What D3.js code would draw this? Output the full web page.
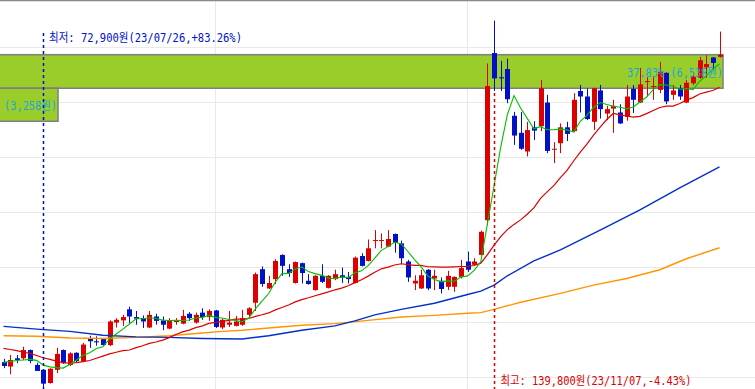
<!DOCTYPE html>
<html>
<head>
<meta charset="utf-8">
<script src="https://cdn.jsdelivr.net/npm/d3@7"></script>
<style>
html, body { margin: 0; padding: 0; background: #fff; overflow: hidden; }
.lbl { font-family: "DejaVu Sans Mono", "Noto Sans CJK KR", monospace; font-size: 12px; }
</style>
</head>
<body>
<div id="chart"></div>
<script>
// daily candles (won)
var opens = [77700,76900,78400,78400,79900,77200,76300,73900,76300,79900,77200,79400,77900,82000,81500,81900,80800,84900,85300,87300,
  85900,85700,84000,86000,85300,83800,85000,84700,86500,84900,86700,85900,87100,84000,84500,84300,84500,86300,88500,94600,
  91100,92800,97200,94600,92100,95700,92500,90800,93400,91200,92800,93500,93200,92100,97000,96100,99800,99800,98700,101000,
  99300,96000,92000,91100,94500,92900,92500,91400,91400,93200,96000,95400,97200,103500,133900,129500,131000,122500,119400,116000,
  120400,120600,124900,116400,117500,120400,119700,127000,126000,121400,127100,122900,123800,123100,122300,127400,124900,128700,127800,127200,
  130300,126300,127500,124900,128400,129400,131300,133100,133200];
var highs = [78300,79000,79000,80500,80000,77600,76300,76600,80300,80000,79500,79500,81200,82500,82400,82100,85300,85700,86300,87800,
  87000,86200,87000,86500,86000,85700,85700,87200,86800,86700,87500,87300,87200,85600,87000,86100,87200,87700,94000,95100,
  93400,96400,97300,95500,96000,95800,93700,93500,95500,93500,94500,94900,94100,96900,97500,100000,101700,101100,101700,101100,
  99800,96300,93500,94500,94600,94500,93100,94300,93300,96300,97800,96600,101600,132000,139800,132500,132900,123200,123200,121400,
  121500,129000,126300,117700,121100,121400,126600,128100,127500,127600,128100,124300,125400,124600,128100,128100,131200,129500,129500,132300,
  130400,128100,128100,129000,130300,133200,133500,133200,137800];
var lows = [76600,75500,77500,78100,77500,76100,72900,73800,75700,77400,77000,77700,77700,80300,80700,80700,80600,84000,84300,84800,
  84500,83900,83900,84500,83500,83700,84500,84600,85200,84700,85400,85200,83900,83700,84100,84200,84300,85700,87000,91400,
  91000,91900,93400,93200,92000,92000,91800,90700,92100,91100,92600,92100,92000,92000,95100,96000,98400,98400,98600,97600,
  95500,92300,90800,91000,90800,90800,90200,90800,90500,92900,94100,95200,97100,102600,127000,127000,124800,117200,116300,115100,
  118100,119700,115700,113900,115700,117900,119500,123100,121700,119900,122000,121700,119400,121000,121600,123000,124800,126000,125400,126600,
  124600,125400,125400,124800,128100,129200,129400,130800,133100];
var closes = [77000,78100,78100,79900,77900,76100,73800,76500,79200,77500,79300,77900,80900,81500,81300,80800,85100,85400,85900,86000,
  85600,85100,86300,85200,84500,85300,85200,86100,85700,86300,85900,87000,84100,85400,84900,85100,85700,87500,93700,91900,
  92100,96100,95200,93900,95900,93900,91900,93400,92300,93400,93700,93100,92800,96700,95200,98400,99900,99900,100100,99400,
  96600,93100,92500,93500,91100,93400,91000,93400,93200,94800,94500,96000,101400,127900,129300,129300,125500,118900,116500,119900,
  119800,127500,116100,116500,120400,119200,125400,126000,121900,127500,123700,123700,124300,121100,126000,125400,128200,128800,127900,130500,
  125100,127100,126000,128500,129600,132600,131900,132100,133600];

// moving averages
var ma5 = [77700,77800,78000,78100,78200,78020,77160,76840,76700,76620,77260,78080,78960,79420,80180,80480,81920,82820,83700,84640,
  85600,85600,85780,85640,85340,85280,85300,85260,85360,85720,85840,86200,85800,85740,85460,85300,85040,85720,87380,88780,
  90180,92260,93800,93840,94640,95000,94160,93800,93480,92980,92940,93180,93060,93940,94300,95240,96600,98020,98700,99540,
  99180,97820,96340,95020,93360,92720,92300,92480,92420,93160,93380,94380,95980,102920,109820,116780,122680,126180,123900,122020,
  120120,120520,119960,119960,120060,119940,119520,121500,122580,124000,124900,124560,124220,124060,123760,124100,125000,125900,127260,128160,
  128100,127880,127320,127440,127260,128760,129740,130960,131960];
var ma20 = [80200,80000,79800,79500,79300,78900,78500,78200,77900,77600,77500,77600,77800,78000,78400,78800,79200,79500,79800,79910,
  80340,80690,81100,81365,81695,82155,82725,83205,83530,83970,84300,84755,84915,85110,85290,85505,85535,85640,86030,86325,
  86650,87200,87645,88080,88650,89080,89415,89780,90110,90465,90855,91160,91595,92160,92675,93340,94050,94670,94990,95365,
  95590,95440,95305,95285,95045,95020,94975,94975,95020,95090,95130,95275,95705,97265,98970,100515,101795,102745,103565,104590,
  105750,107470,108650,109800,111265,112555,114275,115905,117340,118975,120435,121820,122965,122625,122460,122265,122400,122895,123465,123995,
  124260,124240,124735,125335,125795,126465,126790,127095,127685];
var ma60Idx = [0,5,10,15,20,25,30,36,40,45,50,53,56,60,65,70,72,74,76,80,84,90,96,102,108];
var ma60 = [84200,83700,83300,82600,82300,82200,82000,81900,82500,83500,84300,85200,86300,87300,88400,90000,90600,91700,93400,96100,98100,101700,105400,109400,113200];
var ma120Idx = [0,5,10,15,20,25,30,33,36,40,45,50,55,60,65,70,72,74,78,84,89,94,99,103,108];
var ma120 = [82500,82400,82100,82000,82200,82500,83000,83300,83500,83900,84400,84700,85300,85900,86200,86600,86700,87300,88600,90200,91700,92900,94500,96500,98500];

var gridPrices = [75000,85000,95000,105000,115000,125000,135000];
var monthStartIdx = [32, 70];
var boxMain = [127500, 133600];
var boxSmall = [121500, 127500];
var lowIdx = 6, highIdx = 74;
var lowText = "최저: 72,900원(23/07/26,+83.26%)";
var highText = "최고: 139,800원(23/11/07,-4.43%)";
var boxSmallText = "(3,258원)";
var boxMainText = "37.83% (6,538원)";

var width = 755, height = 389;
var svg = d3.select("#chart").append("svg")
    .attr("width", width)
    .attr("height", height);

var x = d3.scaleLinear().domain([0, closes.length - 1]).range([3.5, 719.5]);
var y = d3.scaleLinear().domain([75000, 135000]).range([377, 47]);
var bodyW = 5;

// grid
svg.selectAll(".hgrid").data(gridPrices).enter().append("line")
    .attr("x1", 0).attr("x2", width)
    .attr("y1", function(d) { return Math.round(y(d)) + 0.5; })
    .attr("y2", function(d) { return Math.round(y(d)) + 0.5; })
    .attr("stroke", "#e9e9e9");
svg.selectAll(".vgrid").data(monthStartIdx).enter().append("line")
    .attr("x1", function(d) { return Math.round(x(d) - 1) + 0.5; })
    .attr("x2", function(d) { return Math.round(x(d) - 1) + 0.5; })
    .attr("y1", 0).attr("y2", height)
    .attr("stroke", "#e9e9e9");
svg.append("line").attr("x1", 0).attr("x2", width).attr("y1", 0.5).attr("y2", 0.5)
    .attr("stroke", "#888").attr("stroke-width", 1.5);

// price boxes
var boxRight = x(closes.length - 1) + 3.5;
svg.append("rect")
    .attr("x", -1).attr("y", y(boxMain[1]))
    .attr("width", boxRight + 1).attr("height", y(boxMain[0]) - y(boxMain[1]))
    .attr("fill", "#9acd2a").attr("stroke", "#7f7f7f").attr("stroke-width", 1.5);
svg.append("rect")
    .attr("x", -1).attr("y", y(boxSmall[1]))
    .attr("width", 59).attr("height", y(boxSmall[0]) - y(boxSmall[1]))
    .attr("fill", "#9acd2a").attr("stroke", "#7f7f7f").attr("stroke-width", 1.5);

// candles
var idx = d3.range(closes.length);
function col(i) { return closes[i] >= opens[i] ? "#dc0000" : "#0010c8"; }
var candle = svg.selectAll(".candle").data(idx).enter().append("g").attr("class", "candle");
candle.append("line")
    .attr("x1", function(i) { return Math.round(x(i)) + 0.5; })
    .attr("x2", function(i) { return Math.round(x(i)) + 0.5; })
    .attr("y1", function(i) { return y(highs[i]); })
    .attr("y2", function(i) { return y(lows[i]); })
    .attr("stroke", col).attr("stroke-width", 1);
candle.append("rect")
    .attr("x", function(i) { return Math.round(x(i)) + 0.5 - bodyW / 2; })
    .attr("y", function(i) { return y(Math.max(opens[i], closes[i])); })
    .attr("width", bodyW)
    .attr("height", function(i) { return Math.max(1, Math.abs(y(opens[i]) - y(closes[i]))); })
    .attr("fill", col);

// moving averages
var line = d3.line().x(function(d) { return x(d[0]); }).y(function(d) { return y(d[1]); });
svg.append("path").datum(ma120Idx.map(function(d, k) { return [d, ma120[k]]; }))
    .attr("d", line).attr("fill", "none").attr("stroke", "#ff9500").attr("stroke-width", 1.4);
svg.append("path").datum(ma60Idx.map(function(d, k) { return [d, ma60[k]]; }))
    .attr("d", line).attr("fill", "none").attr("stroke", "#0030c8").attr("stroke-width", 1.4);
svg.append("path").datum(idx.map(function(i) { return [i, ma20[i]]; }))
    .attr("d", line).attr("fill", "none").attr("stroke", "#dc0000").attr("stroke-width", 1.2);
svg.append("path").datum(idx.map(function(i) { return [i, ma5[i]]; }))
    .attr("d", line).attr("fill", "none").attr("stroke", "#00c000").attr("stroke-width", 1.1);

// box texts
svg.append("text").attr("class", "lbl")
    .attr("x", 4).attr("y", 109.5)
    .attr("textLength", 53).attr("lengthAdjust", "spacingAndGlyphs")
    .attr("fill", "#18a8d8").text(boxSmallText);
svg.append("text").attr("class", "lbl")
    .attr("x", 627).attr("y", 76.5)
    .attr("textLength", 96).attr("lengthAdjust", "spacingAndGlyphs")
    .attr("fill", "#18a8d8").text(boxMainText);

// low / high markers
var xl = Math.round(x(lowIdx)) + 0.5, xh = Math.round(x(highIdx)) + 0.5;
svg.append("line").attr("x1", xl).attr("x2", xl).attr("y1", 33).attr("y2", height)
    .attr("stroke", "#0010c8").attr("stroke-width", 1.5).attr("stroke-dasharray", "3,3");
svg.append("line").attr("x1", xh).attr("x2", xh).attr("y1", y(lows[highIdx]) + 2).attr("y2", height)
    .attr("stroke", "#dc0000").attr("stroke-width", 1.5).attr("stroke-dasharray", "3,3");
svg.append("text").attr("class", "lbl")
    .attr("x", 49).attr("y", 41.5)
    .attr("textLength", 193).attr("lengthAdjust", "spacingAndGlyphs")
    .attr("fill", "#0010c8").text(lowText);
svg.append("text").attr("class", "lbl")
    .attr("x", 500.5).attr("y", 385)
    .attr("textLength", 191).attr("lengthAdjust", "spacingAndGlyphs")
    .attr("fill", "#dc0000").text(highText);
</script>
</body>
</html>
